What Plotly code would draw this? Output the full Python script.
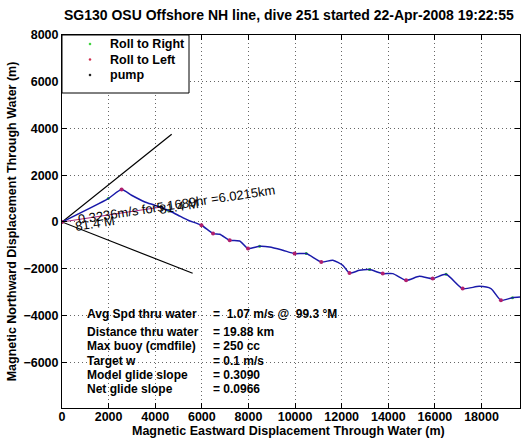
import plotly.graph_objects as go

# ---- data ----
path_x = [0, 1983, 2557, 2985, 3555, 3983, 4553, 4981, 5409, 5983, 6480, 6768, 7195, 7624, 7979,
          8480, 8909, 9478, 9979, 10480, 11123, 11620, 12048, 12335, 12763, 13192, 13761, 14190,
          14764, 15333, 15903, 16477, 17188, 17903, 18404, 18832, 19329, 19650]
path_y = [0, 1002, 1388, 1144, 857, 715, 501, 287, 73, -141, -497, -527, -784, -814, -1139,
          -1041, -1071, -1212, -1353, -1353, -1713, -1640, -1855, -2184, -2069, -2039, -2210, -2210,
          -2497, -2326, -2424, -2240, -2852, -2754, -2852, -3354, -3238, -3212]

left_x = [0, 2557, 5983, 6480, 7195, 7979, 9979, 11123, 12335, 13761, 14764, 15903, 17188, 18832]
left_y = [0, 1388, -141, -497, -784, -1139, -1353, -1713, -2184, -2210, -2497, -2424, -2852, -3354]

right_x = [1983, 4553, 8480, 10480, 13192, 16477, 19329]
right_y = [1002, 501, -1041, -1353, -2039, -2240, -3238]

pump_x = [0, 2557]
pump_y = [0, 1388]

cone_up_x = [0, 4706]
cone_up_y = [0, 3756]
cone_dn_x = [0, 5606]
cone_dn_y = [0, -2197]
current_x = [0, 4330]
current_y = [0, 650]

legend_names = ["Roll to Right", "Roll to Left", "pump"]
legend_colors = ["#22cc22", "#cc2244", "black"]

stats_labels = ["Avg Spd thru water", "Distance thru water", "Max buoy (cmdfile)",
                "Target w", "Model glide slope", "Net glide slope"]
stats_values = ["=  1.07 m/s @  99.3 °M", "= 19.88 km", "= 250 cc",
                "= 0.1 m/s", "= 0.3090", "= 0.0966"]
stats_y = [-3930, -4690, -5290, -5930, -6550, -7150]

x_ticks = [0, 2000, 4000, 6000, 8000, 10000, 12000, 14000, 16000, 18000]
y_ticks = [-6000, -4000, -2000, 0, 2000, 4000, 6000, 8000]

TITLE = "SG130 OSU Offshore NH line, dive 251 started 22-Apr-2008 19:22:55"
XTITLE = "Magnetic Eastward Displacement Through Water (m)"
YTITLE = "Magnetic Northward Displacement Through Water (m)"

FONT = "Liberation Sans, Arial, sans-serif"

fig = go.Figure()
fig.add_trace(go.Scatter(x=right_x, y=right_y, mode="markers", name="Roll to Right",
                         marker=dict(color="#22cc22", size=3), showlegend=False))
fig.add_trace(go.Scatter(x=pump_x, y=pump_y, mode="markers", name="pump", showlegend=False,
                         marker=dict(color="black", size=3)))
fig.add_trace(go.Scatter(x=cone_up_x, y=cone_up_y, mode="lines", showlegend=False,
                         line=dict(color="black", width=1.2)))
fig.add_trace(go.Scatter(x=cone_dn_x, y=cone_dn_y, mode="lines", showlegend=False,
                         line=dict(color="black", width=1.2)))
fig.add_trace(go.Scatter(x=current_x, y=current_y, mode="lines", showlegend=False,
                         line=dict(color="#aa2277", width=1)))
fig.add_trace(go.Scatter(x=path_x, y=path_y, mode="lines", showlegend=False,
                         line=dict(color="#1a1aaa", width=1.5, shape="spline", smoothing=0.6)))
fig.add_trace(go.Scatter(x=left_x, y=left_y, mode="markers", name="Roll to Left",
                         marker=dict(color="#b0206e", size=4), showlegend=False))

ann = []
shapes = []
ann.append(dict(x=4913, y=750, text="0.3236m/s for5.1689hr =6.0215km", textangle=-8.6,
                showarrow=False, xanchor="center", yanchor="middle",
                font=dict(family=FONT, size=13, color="black")))
ann.append(dict(x=1413, y=-56, text="81.4 M", textangle=-8.6,
                showarrow=False, xanchor="center", yanchor="middle",
                font=dict(family=FONT, size=13, color="black")))
ann.append(dict(x=5011, y=680, text="81.4 M", textangle=-8.6,
                showarrow=False, xanchor="center", yanchor="middle",
                font=dict(family=FONT, size=13, color="black")))
for lab, val, yy in zip(stats_labels, stats_values, stats_y):
    ann.append(dict(x=985, y=yy, text=lab, showarrow=False, xanchor="left", yanchor="middle",
                    font=dict(family=FONT, size=12, color="black", weight="bold")))
    ann.append(dict(x=6380, y=yy, text=val, showarrow=False, xanchor="left", yanchor="middle",
                    font=dict(family=FONT, size=12, color="black", weight="bold")))

# paper-coordinate helpers for the plot area (left 62, right 520, top 35, bottom 408)
PW, PH = 458.0, 373.0
def px(xp):
    return (xp - 62) / PW
def py(yp):
    return (408 - yp) / PH

# title and x-axis title as annotations
ann.append(dict(xref="paper", yref="paper", x=px(288.5), y=py(15), text=TITLE,
                showarrow=False, xanchor="center", yanchor="middle",
                font=dict(family=FONT, size=14, color="black", weight="bold")))
ann.append(dict(xref="paper", yref="paper", x=px(288), y=py(431), text=XTITLE,
                showarrow=False, xanchor="center", yanchor="middle",
                font=dict(family=FONT, size=12.5, color="black", weight="bold")))

# manual legend box
shapes.append(dict(type="rect", xref="paper", yref="paper", x0=px(62), x1=px(189),
                   y0=py(93), y1=py(35), line=dict(color="black", width=1),
                   fillcolor="white", layer="above"))
for i, (nm, col) in enumerate(zip(legend_names, legend_colors)):
    yy = 44 + i * 15.5
    shapes.append(dict(type="circle", xref="paper", yref="paper",
                       x0=px(89), x1=px(91), y0=py(yy + 1), y1=py(yy - 1),
                       line=dict(color=col, width=0.5), fillcolor=col, layer="above"))
    ann.append(dict(xref="paper", yref="paper", x=px(108), y=py(yy), text=nm,
                    showarrow=False, xanchor="left", yanchor="middle",
                    font=dict(family=FONT, size=12.5, color="black", weight="bold")))

axis_common = dict(showline=True, linecolor="black", linewidth=1, mirror="allticks",
                   ticks="inside", ticklen=5, tickcolor="black", showgrid=True,
                   gridcolor="#666666", griddash="1px,3px", gridwidth=1, zeroline=False,
                   automargin=False,
                   tickfont=dict(family=FONT, size=12.5, color="black", weight="bold"))

fig.update_layout(
    template="none",
    width=528, height=442,
    margin=dict(l=62, r=8, t=35, b=34, autoexpand=False),
    paper_bgcolor="white", plot_bgcolor="white",
    xaxis=dict(range=[0, 19650], tickvals=x_ticks, ticktext=[str(v) for v in x_ticks],
               ticklabelstandoff=-3, **axis_common),
    yaxis=dict(range=[-7960, 8000], tickvals=y_ticks,
               ticktext=[str(v).replace("-", "\u2212") for v in y_ticks],
               title=dict(text=YTITLE, standoff=4,
                          font=dict(family=FONT, size=12.5, color="black", weight="bold")),
               **axis_common),
    annotations=ann,
    shapes=shapes,
    showlegend=False,
)

fig.write_html("out.html", config={"displayModeBar": False},
               post_script="document.body.style.margin='0';")
